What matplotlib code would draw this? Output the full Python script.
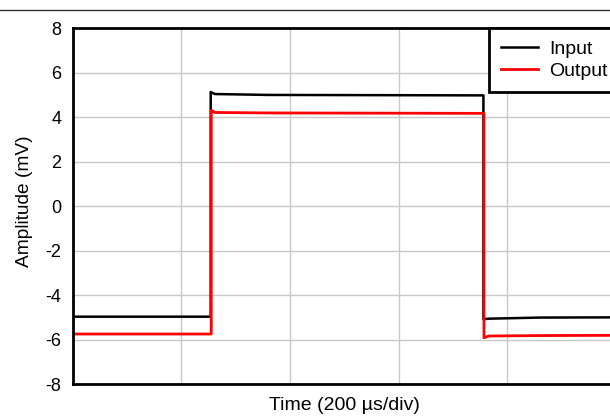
import matplotlib
matplotlib.use("Agg")
import matplotlib.pyplot as plt
from matplotlib.lines import Line2D

plt.rcParams['font.family'] = ['Liberation Sans', 'DejaVu Sans']
plt.rcParams['axes.unicode_minus'] = False

# ---- data (time in divisions of 200 us, amplitude in mV) ----
time_in = [0.0, 1.27, 1.27, 1.31, 1.8, 3.78, 3.78, 3.83, 4.3, 5.0]
input_mv = [-4.97, -4.97, 5.14, 5.05, 5.01, 4.99, -5.08, -5.06, -5.01, -5.0]
time_out = [0.0, 1.275, 1.275, 1.31, 1.8, 3.785, 3.785, 3.83, 4.3, 5.0]
output_mv = [-5.75, -5.75, 4.32, 4.22, 4.2, 4.18, -5.92, -5.84, -5.82, -5.81]
y_ticks = [-8, -6, -4, -2, 0, 2, 4, 6, 8]
x_grid = [0, 1, 2, 3, 4, 5]

fig = plt.figure(figsize=(6.1, 4.16), dpi=100)
ax = fig.add_axes([0.1192, 0.0769, 0.8906, 0.8546])

ax.plot(time_in, input_mv, color='black', lw=1.8, label='Input')
ax.plot(time_out, output_mv, color='#ff0000', lw=2.0, label='Output')

ax.set_xlim(0, 5)
ax.set_ylim(-8, 8)
ax.set_xticks(x_grid)
ax.set_xticklabels([])
ax.set_yticks(y_ticks)
ax.tick_params(length=0, labelsize=13, pad=8)
ax.grid(True, color='#c8c8c8', lw=1)
ax.set_axisbelow(True)
for s in ax.spines.values():
    s.set_linewidth(2)

ax.set_xlabel('Time (200 \u00b5s/div)', fontsize=14, labelpad=1)
ax.set_ylabel('Amplitude (mV)', fontsize=13.8, labelpad=9, y=0.515)

leg = ax.legend(loc='upper left', bbox_to_anchor=(0.766, 1.0), fontsize=14,
                fancybox=False, edgecolor='black', framealpha=1,
                borderaxespad=0, handlelength=1.95, handletextpad=0.55,
                labelspacing=0.25, borderpad=0.6)
leg.get_frame().set_linewidth(2)
# line at top of the figure
fig.add_artist(Line2D([0, 1], [0.976, 0.976], color='#333333', lw=1))

fig.savefig('out.png', dpi=100)
